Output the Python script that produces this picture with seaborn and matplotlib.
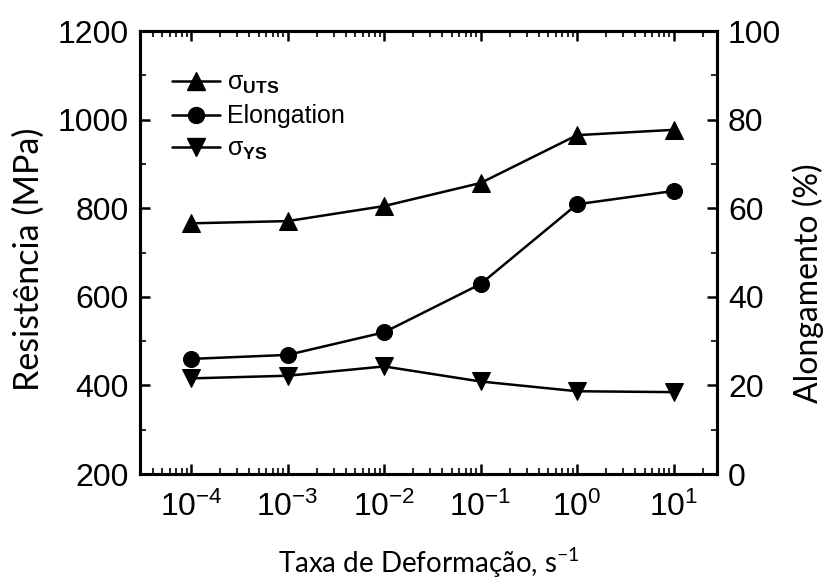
import numpy as np
import pandas as pd
import matplotlib
matplotlib.use("Agg")
import matplotlib.pyplot as plt
import seaborn as sns
from matplotlib.ticker import LogLocator, MultipleLocator, NullFormatter, FixedLocator, FixedFormatter
from matplotlib.lines import Line2D

# data
strain_rate = [1e-4, 1e-3, 1e-2, 1e-1, 1e0, 1e1]
sigma_uts = [766, 771, 805, 857, 965, 977]
elongation = [26.0, 26.9, 32.0, 42.9, 60.9, 63.9]
sigma_ys = [416, 422, 443, 409, 387, 385]
x_tick_labels = ["10$^{-4}$", "10$^{-3}$", "10$^{-2}$", "10$^{-1}$", "10$^{0}$", "10$^{1}$"]
left_ticks = [200, 400, 600, 800, 1000, 1200]
right_ticks = [0, 20, 40, 60, 80, 100]

sns.set_style("ticks")
plt.rcParams["font.family"] = ["Liberation Sans", "DejaVu Sans"]
plt.rcParams["mathtext.fontset"] = "custom"
plt.rcParams["mathtext.rm"] = "Liberation Sans"
plt.rcParams["mathtext.bf"] = "Liberation Sans:bold"
plt.rcParams["mathtext.default"] = "regular"
plt.rcParams["axes.unicode_minus"] = False
plt.rcParams["text.color"] = "black"
plt.rcParams["axes.labelcolor"] = "black"

df = pd.DataFrame({"rate": strain_rate, "uts": sigma_uts,
                   "el": elongation, "ys": sigma_ys})

fig = plt.figure(figsize=(8.26, 5.81), dpi=100)
ax = fig.add_axes([0.1695, 0.184, 0.6985, 0.7626])
ax2 = ax.twinx()

lw = 1.8
ms = 12.5
sns.lineplot(data=df, x="rate", y="uts", ax=ax, color="black", marker="^",
             markersize=ms, linewidth=lw, markeredgecolor="black")
sns.lineplot(data=df, x="rate", y="ys", ax=ax, color="black", marker="v",
             markersize=ms, linewidth=lw, markeredgecolor="black")
sns.lineplot(data=df, x="rate", y="el", ax=ax2, color="black", marker="o",
             markersize=ms - 1, linewidth=lw, markeredgecolor="black")

ax.set_xscale("log")
ax.set_xlim(10 ** -4.53, 10 ** 1.45)
ax.set_ylim(200, 1200)
ax2.set_ylim(0, 100)

ax.set_yticks(left_ticks)
ax.yaxis.set_minor_locator(MultipleLocator(100))
ax2.set_yticks(right_ticks)
ax2.yaxis.set_minor_locator(MultipleLocator(10))
ax.xaxis.set_major_locator(FixedLocator(strain_rate))
ax.xaxis.set_major_formatter(FixedFormatter(x_tick_labels))
ax.xaxis.set_minor_locator(LogLocator(base=10, subs=np.arange(2, 10), numticks=20))
ax.xaxis.set_minor_formatter(NullFormatter())

for a in (ax, ax2):
    for s in a.spines.values():
        s.set_linewidth(2.2)
        s.set_color("black")

ax.tick_params(axis="both", which="major", direction="in", length=7, width=1.8,
               labelsize=23, colors="black", top=True, right=False, pad=8)
ax.tick_params(axis="x", which="major", pad=13)
ax.tick_params(axis="both", which="minor", direction="in", length=4, width=1.4,
               top=True, right=False)
ax2.tick_params(axis="y", which="major", direction="in", length=7, width=1.8,
                labelsize=23, colors="black", pad=8)
ax2.tick_params(axis="y", which="minor", direction="in", length=4, width=1.4)

ax.set_xlabel("Taxa de Deformação, s$^{-1}$", family=["Lato", "DejaVu Sans"],
              fontsize=20, color="black")
ax.set_ylabel("Resistência (MPa)", family=["Lato", "DejaVu Sans"], fontsize=24.5,
              color="black")
ax2.set_ylabel("Alongamento (%)", family=["Lato", "DejaVu Sans"], fontsize=23,
               color="black")
for lab in (ax.yaxis.label, ax2.yaxis.label, ax.xaxis.label):
    lab.set_verticalalignment("center")
    lab.set_rotation_mode("default")
ax.yaxis.set_label_coords(-0.192, 0.485)
ax2.yaxis.set_label_coords(1.158, 0.43)
ax.xaxis.set_label_coords(0.5, -0.2)

handles = [
    Line2D([], [], color="black", marker="^", markersize=ms, linewidth=lw),
    Line2D([], [], color="black", marker="o", markersize=ms - 1, linewidth=lw),
    Line2D([], [], color="black", marker="v", markersize=ms, linewidth=lw),
]
labels = [r"σ$_{\mathbf{UTS}}$", "Elongation", r"σ$_{\mathbf{YS}}$"]
leg = ax.legend(handles, labels, loc="upper left", bbox_to_anchor=(0.03, 0.945),
                frameon=False, fontsize=18, handlelength=1.9, handletextpad=0.3,
                labelspacing=0.35, borderaxespad=0.2)
for t in leg.get_texts():
    t.set_color("black")

fig.savefig("out.png", dpi=100)
